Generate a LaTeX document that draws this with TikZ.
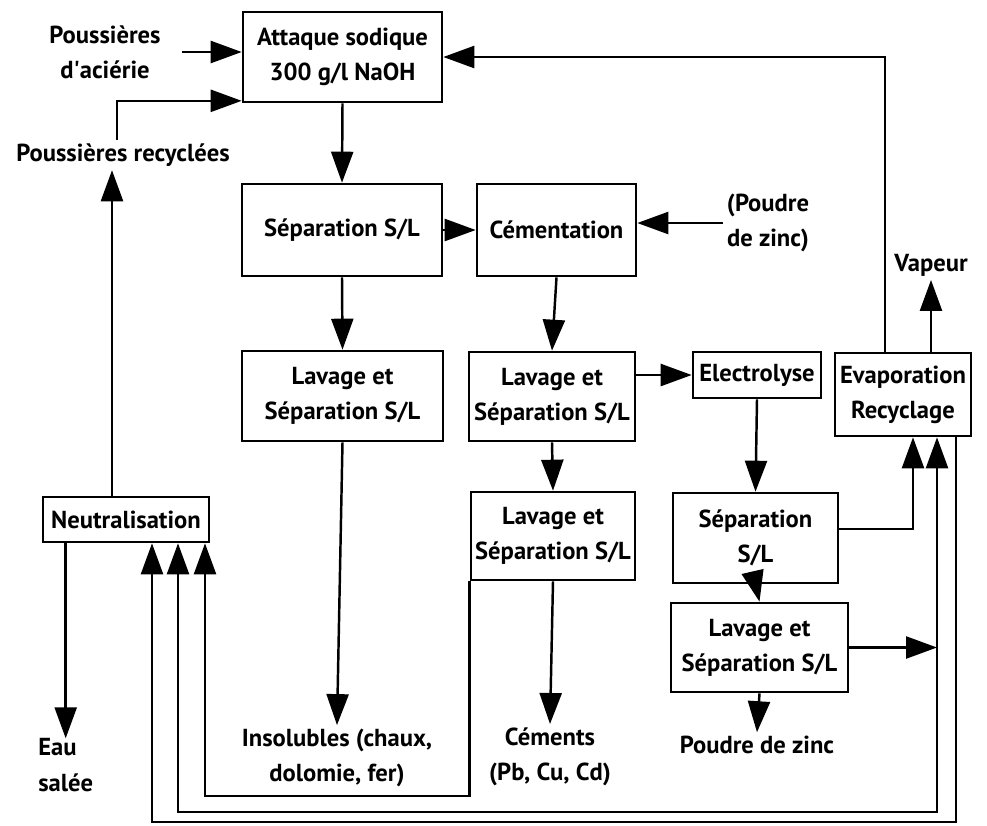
\documentclass[tikz,border=0pt]{standalone}
\usepackage{fontspec}
\setmainfont{PT Sans}
\usetikzlibrary{arrows.meta,positioning,calc}
\tikzset{%
	box/.style   = {draw, rectangle, line width=1.5pt, inner sep=2pt, align=center, font=\bfseries\fontsize{14}{20}\selectfont},
	lbl/.style   = {align=center, inner sep=2pt, font=\bfseries\fontsize{14}{20}\selectfont},
	arrow/.style = {line width=1.4pt, -{Triangle[length=0.62cm,width=0.44cm]}},
}

\begin{document}
\begin{tikzpicture}
		\useasboundingbox (0,0) rectangle (19.74,-16.5);
		% process boxes
		\node[box, minimum width=3.98cm, minimum height=1.8cm] (attaque) at (6.85,-1.14) {Attaque sodique\\300 g/l NaOH};
		\node[box, minimum width=4cm, minimum height=1.84cm] (sep1) at (6.84,-4.6) {Séparation S/L};
		\node[box, minimum width=4.02cm, minimum height=1.8cm] (lav1) at (6.85,-7.92) {Lavage et\\Séparation S/L};
		\node[box, minimum width=3.18cm, minimum height=1.84cm] (cem) at (11.13,-4.6) {Cémentation};
		\node[box, minimum width=3.32cm, minimum height=1.78cm] (lav2) at (11.04,-7.93) {Lavage et\\Séparation S/L};
		\node[box, minimum width=3.28cm, minimum height=1.76cm] (lav3) at (11.06,-10.72) {Lavage et\\Séparation S/L};
		\node[box, minimum width=2.56cm, minimum height=0.92cm] (elec) at (15.14,-7.5) {Electrolyse};
		\node[box, minimum width=2.72cm, minimum height=1.66cm] (evap) at (18.06,-7.89) {Evaporation\\Recyclage};
		\node[box, minimum width=3.3cm, minimum height=1.8cm] (sep2) at (15.11,-10.76) {Séparation\\S/L};
		\node[box, minimum width=3.54cm, minimum height=1.78cm] (lav4) at (15.19,-12.95) {Lavage et\\Séparation S/L};
		\node[box, minimum width=3.32cm, minimum height=0.9cm] (neutr) at (2.52,-10.39) {Neutralisation};
		
		% inputs and outputs
		\node[lbl] (aci) at (2.1,-1.04) {Poussières\\d\textquotesingle aciérie};
		\node[lbl] (rec) at (2.46,-3.1) {Poussières recyclées};
		\node[lbl] (zin) at (15.36,-4.46) {(Poudre\\de zinc)};
		\node[lbl] (vap) at (18.62,-5.3) {Vapeur};
		\node[lbl, align=left, anchor=west, inner sep=0pt] (eau) at (0.76,-15.3) {Eau\\salée};
		\node[lbl] (insol) at (6.74,-15.16) {Insolubles (chaux,\\dolomie, fer)};
		\node[lbl] (cmt) at (11,-15.14) {Céments\\(Pb, Cu, Cd)};
		\node[lbl] (pdz) at (15.14,-14.9) {Poudre de zinc};
		
		% levels of the return lines
		\coordinate (b1) at (0,-15.92);
		\coordinate (b2) at (0,-16.24);
		\coordinate (b3) at (0,-16.44);
		\coordinate (j) at ([xshift=0.68cm]evap.south |- lav4.east);
		
		% main line
		\draw[arrow, shorten <=0.35cm] (aci.east) -- (aci.east -| attaque.west);
		\draw[arrow] ([xshift=-0.12cm]rec.north) |- ([yshift=0.05cm]attaque.south west);
		\draw[arrow] (attaque.south) -- (sep1.north);
		\draw[arrow] (sep1.east) -- (cem.west);
		\draw[arrow] (sep1.south) -- (lav1.north);
		\draw[arrow] (lav1.south) -- (insol.north);
		\draw[arrow] (zin.west) -- (zin.west -| cem.east);
		\draw[arrow] (cem.south) -- (lav2.north);
		\draw[arrow] (lav2.east |- elec.west) -- (elec.west);
		\draw[arrow] (lav2.south) -- (lav3.north);
		\draw[arrow] (lav3.south) -- (cmt.north);
		\draw[arrow] (elec.south) -- (sep2.north);
		\draw[arrow] (sep2.south) -- (lav4.north);
		\draw[arrow] (lav4.south) -- (pdz.north);
		
		% recycling
		\draw[arrow] ([yshift=0.18cm]sep2.east) -| ([xshift=0.2cm]evap.south);
		\draw[arrow] (lav4.east) -- (j);
		\draw[arrow] (j) -- (j |- evap.south);
		\draw[arrow] (evap.north -| vap.south) -- (vap.south);
		\draw[arrow] ([xshift=-0.36cm]evap.north) |- (attaque.east);
		\draw[arrow] ([xshift=-0.28cm]neutr.north) -- ([xshift=-0.28cm]neutr.north |- rec.south);
		\draw[arrow] (neutr.south -| eau.north) -- (eau.north);
		
		% return to neutralisation
		\draw[arrow] (lav3.south west) |- ([xshift=1.58cm]neutr.south |- b1) -- ([xshift=1.58cm]neutr.south);
		\draw[arrow] (j) |- ([xshift=1.04cm]neutr.south |- b2) -- ([xshift=1.04cm]neutr.south);
		\draw[arrow] ([xshift=1.06cm]evap.south) |- ([xshift=0.52cm]neutr.south |- b3) -- ([xshift=0.52cm]neutr.south);
		
\end{tikzpicture}
\end{document}
